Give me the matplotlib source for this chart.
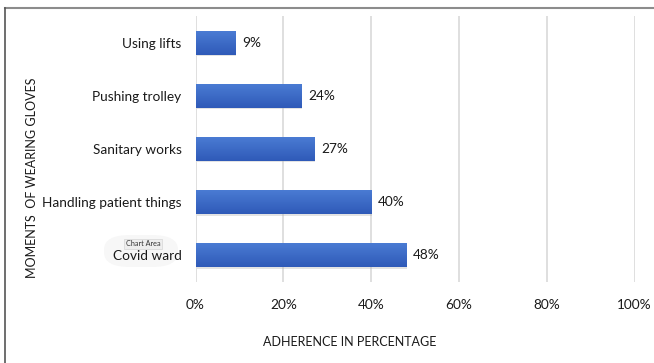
import numpy as np
import matplotlib
matplotlib.use("Agg")
import matplotlib.pyplot as plt
from matplotlib.lines import Line2D
from matplotlib.patches import FancyBboxPatch
from matplotlib.ticker import FuncFormatter
import matplotlib.transforms as mtransforms

plt.rcParams['font.family'] = ['Lato', 'DejaVu Sans']

# glove-wearing moments and adherence (%)
moments = ['Covid ward', 'Handling patient things', 'Sanitary works',
           'Pushing trolley', 'Using lifts']
adherence = [48, 40, 27, 24, 9]
x_ticks = [0, 20, 40, 60, 80, 100]

fs = 9.8
title_fs = 9.0

fig = plt.figure(figsize=(6.54, 3.63), dpi=100)
ax = fig.add_axes([195.5 / 654, 81 / 363, 439 / 654, 266 / 363])
ax.patch.set_alpha(0)

ypos = np.arange(len(moments))
bars = ax.barh(ypos, adherence, height=0.45, color='#3a66c6', zorder=3)

# soft drop shadow and top-to-bottom gradient on each bar
grad = np.linspace(0, 1, 64).reshape(-1, 1)
cmap = matplotlib.colors.LinearSegmentedColormap.from_list('bar', ['#2f5ab8', '#4a7bd3'])
shadow_off = mtransforms.offset_copy(ax.transData, fig=fig, x=1, y=-1.5, units='dots')
for b in bars:
    x0, y0 = b.get_x(), b.get_y()
    w, h = b.get_width(), b.get_height()
    ax.barh(y0 + h / 2, w, height=h, color='#b0b0b0', alpha=0.35,
            transform=shadow_off, zorder=2)
    im = ax.imshow(grad, cmap=cmap, aspect='auto', origin='lower',
                   extent=[x0, x0 + w, y0, y0 + h], zorder=4)
    im.set_clip_path(b)

for y, v in zip(ypos, adherence):
    ax.annotate(f'{v}%', (v, y), xytext=(7, 0), textcoords='offset pixels',
                va='center', ha='left', fontsize=fs, color='#1a1a1a', zorder=5)

ax.set_xlim(0, 100)
ax.set_ylim(-0.5, len(moments) - 0.5)
ax.set_xticks(x_ticks)
ax.xaxis.set_major_formatter(FuncFormatter(lambda v, p: f'{v:.0f}%'))
ax.set_yticks(ypos)
ax.set_yticklabels(moments)
ax.grid(axis='x', color='#d9d9d9', linewidth=1.2, zorder=0)
ax.set_axisbelow(True)
for s in ax.spines.values():
    s.set_visible(False)
ax.tick_params(axis='both', length=0, labelsize=fs, colors='#1a1a1a')
ax.tick_params(axis='x', pad=12)
ax.tick_params(axis='y', pad=10)

fig.text(350 / 654, 1 - 342 / 363, 'ADHERENCE IN PERCENTAGE', ha='center',
         va='center', fontsize=title_fs, color='#1a1a1a')
fig.text(32 / 654, 1 - 178 / 363, 'MOMENTS  OF WEARING GLOVES', ha='center',
         va='center', rotation=90, fontsize=title_fs, color='#1a1a1a')

# chart area frame
fig.add_artist(Line2D([5 / 654, 1], [1 - 8 / 363] * 2, transform=fig.transFigure,
                      color='#8c8c8c', linewidth=1.5))
fig.add_artist(Line2D([5 / 654] * 2, [0, 1 - 8 / 363], transform=fig.transFigure,
                      color='#555555', linewidth=1.2))

# hover tooltip
fig.add_artist(FancyBboxPatch((104 / 654, 1 - 267 / 363), 74 / 654, 32 / 363,
                              boxstyle='round,pad=0,rounding_size=0.04',
                              transform=fig.transFigure, facecolor='#f7f7f7',
                              edgecolor='none', zorder=0))
fig.text(143 / 654, 1 - 244 / 363, 'Chart Area', ha='center', va='center',
         fontsize=5.2, color='#333333',
         bbox=dict(boxstyle='square,pad=0.25', facecolor='#eeeeee',
                   edgecolor='#d6d6d6', linewidth=0.5))

fig.savefig('out.png', dpi=100)
